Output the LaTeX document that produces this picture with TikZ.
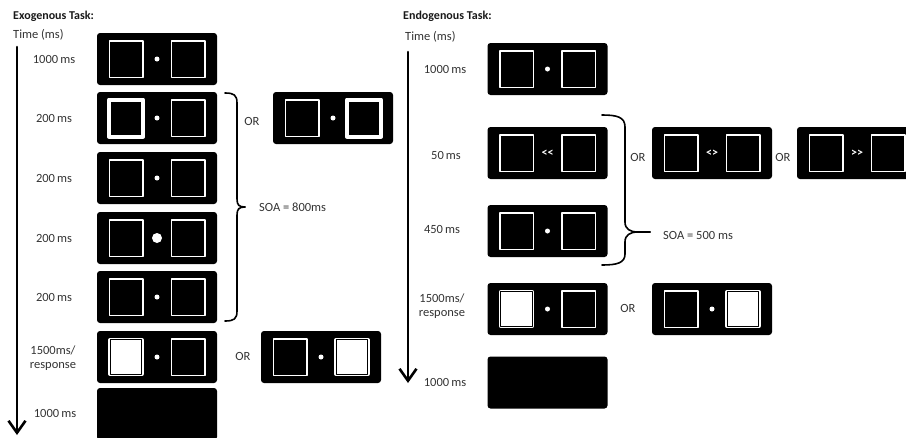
\documentclass[tikz,border=0pt]{standalone}
\usepackage{fontspec}
\setmainfont{Carlito}
\usetikzlibrary{arrows.meta}

\begin{document}
\begin{tikzpicture}[x=1pt, y=-1pt, line cap=round, line join=round,
    screen/.style={fill=black, rounded corners=3pt, minimum width=120pt, minimum height=52pt, inner sep=0pt},
    sqbox/.style={draw=white, line width=1.5pt, minimum width=33.5pt, minimum height=36.5pt, inner sep=0pt},
    cue/.style={sqbox, line width=4pt, minimum width=34pt, minimum height=37pt},
    target/.style={sqbox, fill=white, line width=1.2pt, double=black, double distance=1.3pt, minimum width=31.5pt, minimum height=34.5pt},
    fix/.style={circle, fill=white, minimum size=5pt, inner sep=0pt},
    bigfix/.style={fix, minimum size=10pt},
    sym/.style={text=white, font=\fontsize{12}{12}\selectfont\bfseries, inner sep=0pt},
    timelabel/.style={text=black!80, font=\fontsize{12.5}{13.5}\selectfont, align=center, inner sep=0pt},
    tasktitle/.style={text=black!90, font=\fontsize{12}{13}\selectfont\bfseries, anchor=west, inner sep=0pt},
    timeaxis/.style={line width=2.6pt, -{Straight Barb[length=12pt, width=17pt]}},
    brace/.style={line width=1.6pt}]
    \useasboundingbox (0,0) rectangle (906,437);
    \clip (0,0) rectangle (906,437);

    % exogenous task
    \node[tasktitle] (xtitle) at (13,16) {Exogenous Task:};
    \node[timelabel, anchor=west] (xtime) at (13,35) {Time (ms)};
    \coordinate (xtop) at (17,47);
    \coordinate (xend) at (17,435);
    \draw[timeaxis] (xtop) -- (xend);

    \node[screen] (xa) at (157,59) {};
    \node[screen] (xb) at (157,118) {};
    \node[screen] (xc) at (157,178) {};
    \node[screen] (xd) at (157,238) {};
    \node[screen] (xe) at (157,297) {};
    \node[screen] (xf) at (157,357) {};
    \node[screen] (xg) at (157,414) {};
    \node[screen] (xb2) at (333,118) {};
    \node[screen] (xf2) at (321,357) {};

    \foreach \s in {xa,xc,xd,xe}{
        \node[sqbox] (\s-l) at ([xshift=-31pt]\s.center) {};
        \node[sqbox] (\s-r) at ([xshift=31pt]\s.center) {};
    }
    \node[cue] (xb-l) at ([xshift=-31pt]xb.center) {};
    \node[sqbox] (xb-r) at ([xshift=31pt]xb.center) {};
    \node[sqbox] (xb2-l) at ([xshift=-31pt]xb2.center) {};
    \node[cue] (xb2-r) at ([xshift=31pt]xb2.center) {};
    \node[target] (xf-l) at ([xshift=-31pt]xf.center) {};
    \node[sqbox] (xf-r) at ([xshift=31pt]xf.center) {};
    \node[sqbox] (xf2-l) at ([xshift=-31pt]xf2.center) {};
    \node[target] (xf2-r) at ([xshift=31pt]xf2.center) {};

    \foreach \s in {xa,xb,xc,xe,xf,xb2,xf2}
        \node[fix] (\s-fix) at (\s) {};
    \node[bigfix] (xd-fix) at (xd) {};

    \node[timelabel] (xla) at (54,59) {1000\,ms};
    \node[timelabel] (xlb) at (54,118) {200\,ms};
    \node[timelabel] (xlc) at (54,178) {200\,ms};
    \node[timelabel] (xld) at (54,238) {200\,ms};
    \node[timelabel] (xle) at (54,297) {200\,ms};
    \node[timelabel] (xlf) at (53,358) {1500ms/\\response};
    \node[timelabel] (xlg) at (55,413) {1000\,ms};

    \node[timelabel] (xor1) at (252,121) {OR};
    \node[timelabel] (xor2) at (243,356) {OR};

    \draw[brace] (225,93) .. controls (234,93) and (237,95) .. (237,103) -- (237,199)
        .. controls (237,205) and (239,207) .. (245,207);
    \draw[brace] (245,207) .. controls (239,207) and (237,209) .. (237,215) -- (237,311)
        .. controls (237,319) and (234,321) .. (225,321);
    \node[timelabel, anchor=west] (xsoa) at (259,207) {SOA = 800ms};

    % endogenous task
    \node[tasktitle] (ntitle) at (403,16) {Endogenous Task:};
    \node[timelabel, anchor=west] (ntime) at (405,37) {Time (ms)};
    \coordinate (ntop) at (408,52);
    \coordinate (nend) at (408,383);
    \draw[timeaxis] (ntop) -- (nend);

    \node[screen] (na) at (547.5,69) {};
    \node[screen] (nb) at (547.5,153) {};
    \node[screen] (nc) at (547.5,231) {};
    \node[screen] (nd) at (547.5,309) {};
    \node[screen] (ne) at (547.5,382.5) {};
    \node[screen] (nb2) at (712,153) {};
    \node[screen] (nb3) at (857,153) {};
    \node[screen] (nd2) at (712,309) {};

    \foreach \s in {na,nb,nc,nb2,nb3}{
        \node[sqbox] (\s-l) at ([xshift=-31pt]\s.center) {};
        \node[sqbox] (\s-r) at ([xshift=31pt]\s.center) {};
    }
    \node[target] (nd-l) at ([xshift=-31pt]nd.center) {};
    \node[sqbox] (nd-r) at ([xshift=31pt]nd.center) {};
    \node[sqbox] (nd2-l) at ([xshift=-31pt]nd2.center) {};
    \node[target] (nd2-r) at ([xshift=31pt]nd2.center) {};

    \foreach \s in {na,nc,nd,nd2}
        \node[fix] (\s-fix) at (\s) {};
    \node[sym] (nb-sym) at (nb) {<{}<};
    \node[sym] (nb2-sym) at (nb2) {<{}>};
    \node[sym] (nb3-sym) at (nb3) {>{}>};

    \node[timelabel] (nla) at (445,69) {1000\,ms};
    \node[timelabel] (nlb) at (446,155) {50\,ms};
    \node[timelabel] (nlc) at (442,229) {450\,ms};
    \node[timelabel] (nld) at (442,306) {1500ms/\\response};
    \node[timelabel] (nle) at (445,382) {1000\,ms};

    \node[timelabel] (nor1) at (638,157) {OR};
    \node[timelabel] (nor2) at (783,157) {OR};
    \node[timelabel] (nor3) at (628,308) {OR};

    \draw[brace] (602,115) .. controls (617,115) and (625,117) .. (625,127) -- (625,222)
        .. controls (625,229) and (630,232) .. (638,232) -- (650,232);
    \draw[brace] (650,232) -- (638,232) .. controls (630,232) and (625,235) .. (625,242) -- (625,254)
        .. controls (625,263) and (617,265) .. (602,265);
    \node[timelabel, anchor=west] (nsoa) at (663,235) {SOA = 500 ms};
\end{tikzpicture}
\end{document}
